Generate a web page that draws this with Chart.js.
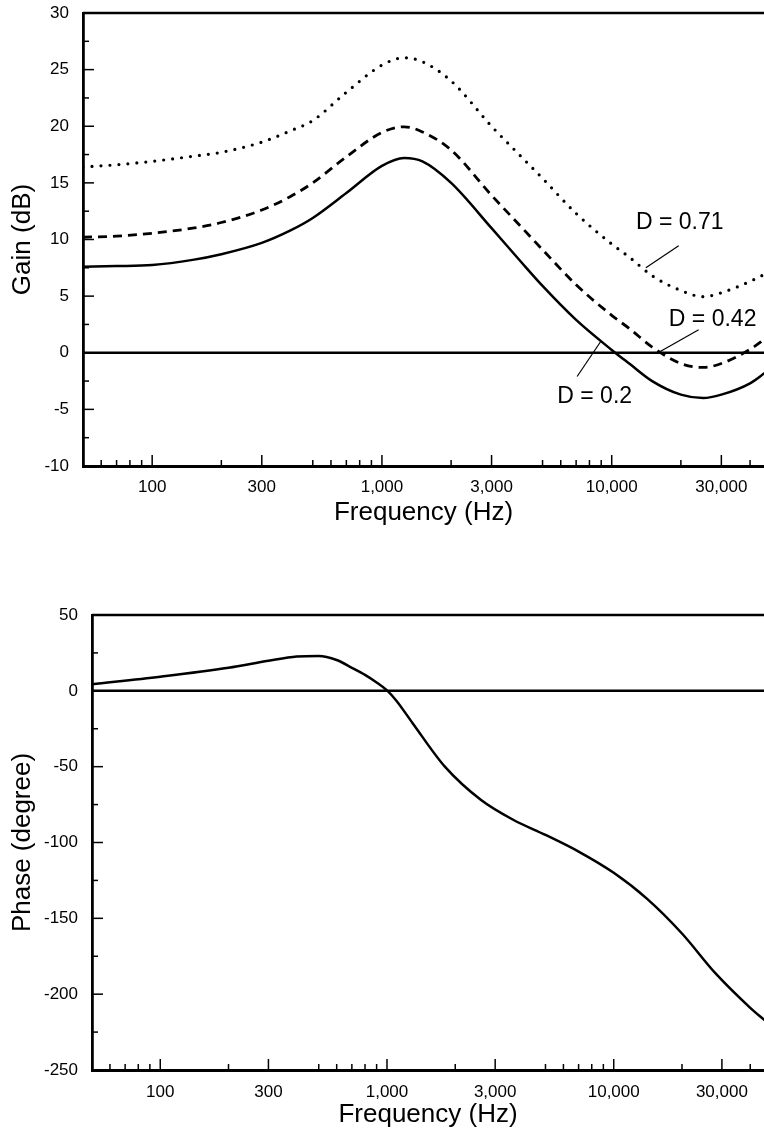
<!DOCTYPE html>
<html lang="en">
  <head>
    <meta charset="UTF-8" />
    <title>Gain and Phase vs Frequency</title>
    <script src="https://cdn.jsdelivr.net/npm/chart.js@4"></script>
    <style>
      body {
        margin: 0;
        background: #fff;
        overflow: hidden;
      }
      canvas {
        position: absolute;
        left: 0;
      }
      #gainChart {
        top: 0;
      }
      #phaseChart {
        top: 600px;
      }
    </style>
  </head>
  <body>
    <canvas id="gainChart" width="764" height="540"></canvas>
    <canvas id="phaseChart" width="764" height="533"></canvas>

    <script>
      // gain curves (dB) for three damping values
      const freqGain = [50, 70, 100, 150, 200, 300, 400, 500, 700, 1000, 1250, 1500, 2000, 3000, 4000, 5000, 7000, 10000, 12000, 15000, 20000, 25000, 30000, 40000, 47000];
      const gainD020 = [7.6, 7.65, 7.75, 8.2, 8.7, 9.7, 10.8, 11.9, 14.1, 16.5, 17.2, 16.9, 15.0, 11.0, 8.1, 5.9, 2.9, 0.25, -1.0, -2.5, -3.7, -4.0, -3.7, -2.7, -1.7];
      const gainD042 = [10.2, 10.3, 10.55, 11.0, 11.5, 12.6, 13.8, 15.0, 17.3, 19.45, 19.95, 19.5, 17.9, 13.9, 11.2, 9.1, 6.0, 3.3, 2.1, 0.5, -0.95, -1.3, -0.95, 0.3, 1.3];
      const gainD071 = [16.4, 16.6, 16.9, 17.35, 17.7, 18.6, 19.6, 20.5, 23.0, 25.4, 26.05, 25.7, 24.0, 20.0, 17.4, 15.4, 12.3, 9.6, 8.4, 6.8, 5.5, 4.95, 5.3, 6.3, 7.0];

      // phase curve (degree)
      const freqPhase = [50, 100, 200, 300, 400, 500, 600, 700, 800, 900, 1000, 1100, 1300, 1800, 2600, 3600, 5000, 7000, 10000, 14000, 20000, 28000, 40000, 47000];
      const phaseDeg = [4.3, 9.3, 15.2, 19.8, 22.6, 23.0, 20.3, 15.2, 10.5, 5.5, 0.3, -6.5, -21.5, -50, -72, -85, -95, -106, -120, -137, -160, -186, -209, -218];

      // axis ticks
      const xTickLabels = [100, 300, 1000, 3000, 10000, 30000];
      const xMinorTicks = [60, 70, 80, 90, 200, 500, 600, 700, 800, 900, 2000, 5000, 6000, 7000, 8000, 9000, 20000, 40000];
      const gainTicks = [-10, -5, 0, 5, 10, 15, 20, 25, 30];
      const gainMinor = [-7.5, -2.5, 2.5, 7.5, 12.5, 17.5, 22.5, 27.5];
      const phaseTicks = [-250, -200, -150, -100, -50, 0, 50];
      const phaseMinor = [-225, -175, -125, -75, -25, 25];

      // curve labels: text centre and leader line ends, in (Hz, dB)
      const gainNotes = [
        { text: "D = 0.71", at: [19760, 11.5], from: [19560, 9.45], to: [14080, 7.5] },
        { text: "D = 0.42", at: [27500, 2.9], from: [23900, 2.03], to: [16190, 0.09] },
        { text: "D = 0.2", at: [8430, -3.9], from: [8940, 0.97], to: [7070, -2.1] },
      ];

      const FONT = "'Liberation Sans', Arial, Helvetica, sans-serif";
      Chart.defaults.font.family = FONT;
      Chart.defaults.color = "#000";

      const toPoints = (xs, ys) => xs.map((x, i) => ({ x: x, y: ys[i] }));

      // top border, zero line and inward tick marks
      const framePlugin = {
        id: "frame",
        beforeDatasetsDraw(chart, args, opts) {
          const { ctx, chartArea: a } = chart;
          const x = chart.scales.x;
          const y = chart.scales.y;
          const seg = (x1, y1, x2, y2) => {
            ctx.beginPath();
            ctx.moveTo(x1, y1);
            ctx.lineTo(x2, y2);
            ctx.stroke();
          };
          ctx.save();
          ctx.strokeStyle = "#000";
          ctx.lineWidth = 2.5;
          seg(a.left, a.top, a.right, a.top);
          const y0 = y.getPixelForValue(0);
          seg(a.left, y0, a.right, y0);

          ctx.lineWidth = 1.5;
          xTickLabels.forEach((v) => {
            const px = x.getPixelForValue(v);
            seg(px, a.bottom, px, a.bottom - 11);
          });
          xMinorTicks.forEach((v) => {
            const px = x.getPixelForValue(v);
            if (px > a.left + 2 && px < a.right) seg(px, a.bottom, px, a.bottom - 6);
          });
          opts.yMajor.forEach((v) => {
            const py = y.getPixelForValue(v);
            seg(a.left, py, a.left + 11, py);
          });
          opts.yMinor.forEach((v) => {
            const py = y.getPixelForValue(v);
            seg(a.left, py, a.left + 6, py);
          });
          ctx.restore();
        },
      };

      const notesPlugin = {
        id: "notes",
        afterDatasetsDraw(chart, args, opts) {
          if (!opts.items) return;
          const { ctx } = chart;
          const x = chart.scales.x;
          const y = chart.scales.y;
          ctx.save();
          ctx.strokeStyle = "#000";
          ctx.fillStyle = "#000";
          ctx.lineWidth = 1.2;
          ctx.font = "23px " + FONT;
          ctx.textAlign = "center";
          ctx.textBaseline = "middle";
          opts.items.forEach((n) => {
            ctx.beginPath();
            ctx.moveTo(x.getPixelForValue(n.from[0]), y.getPixelForValue(n.from[1]));
            ctx.lineTo(x.getPixelForValue(n.to[0]), y.getPixelForValue(n.to[1]));
            ctx.stroke();
            ctx.fillText(n.text, x.getPixelForValue(n.at[0]), y.getPixelForValue(n.at[1]));
          });
          ctx.restore();
        },
      };

      const lineStyle = {
        borderColor: "#000",
        pointRadius: 0,
        fill: false,
        cubicInterpolationMode: "monotone",
      };

      function makeScales(opt) {
        return {
          x: {
            type: "logarithmic",
            min: 50,
            max: 46000,
            afterBuildTicks: (s) => {
              s.ticks = xTickLabels.map((v) => ({ value: v }));
            },
            afterFit: (s) => {
              s.height = opt.xHeight;
              s.paddingLeft = 0;
              s.paddingRight = 0;
            },
            grid: { display: true, drawTicks: false, color: "rgba(0,0,0,0)" },
            border: { display: true, color: "#000", width: 3 },
            ticks: {
              autoSkip: false,
              maxRotation: 0,
              padding: opt.xPad,
              font: { size: 17 },
              callback: (v) => Number(v).toLocaleString("en-US"),
            },
            title: {
              display: true,
              text: "Frequency (Hz)",
              font: { size: 26 },
              padding: { top: 0, bottom: opt.xTitlePad },
            },
          },
          y: {
            min: opt.yMin,
            max: opt.yMax,
            afterBuildTicks: (s) => {
              s.ticks = opt.yTicks.map((v) => ({ value: v }));
            },
            afterFit: (s) => {
              s.width = opt.yWidth;
              s.paddingTop = 0;
              s.paddingBottom = 0;
            },
            grid: { display: true, drawTicks: false, color: "rgba(0,0,0,0)" },
            border: { display: true, color: "#000", width: 2.8 },
            ticks: { padding: opt.yPad, font: { size: 17 } },
            title: {
              display: true,
              text: opt.yTitle,
              font: { size: 26 },
              padding: { top: 7, bottom: 0 },
            },
          },
        };
      }

      const gainChartConfig = {
        type: "line",
        data: {
          datasets: [
            { ...lineStyle, label: "D = 0.2", data: toPoints(freqGain, gainD020), borderWidth: 2.5 },
            { ...lineStyle, label: "D = 0.42", data: toPoints(freqGain, gainD042), borderWidth: 2.8, borderDash: [9, 6] },
            { ...lineStyle, label: "D = 0.71", data: toPoints(freqGain, gainD071), borderWidth: 3.2, borderDash: [0, 9], borderCapStyle: "round" },
          ],
        },
        options: {
          responsive: false,
          animation: false,
          layout: { padding: { top: 13, right: 0, left: 0, bottom: 0 } },
          plugins: {
            legend: { display: false },
            tooltip: { enabled: false },
            frame: { yMajor: gainTicks, yMinor: gainMinor },
            notes: { items: gainNotes },
          },
          scales: makeScales({
            yMin: -10, yMax: 30, yTicks: gainTicks, yTitle: "Gain (dB)",
            yWidth: 83, yPad: 14, xHeight: 74, xPad: 11, xTitlePad: 12,
          }),
        },
        plugins: [framePlugin, notesPlugin],
      };

      const phaseChartConfig = {
        type: "line",
        data: {
          datasets: [
            { ...lineStyle, label: "Phase", data: toPoints(freqPhase, phaseDeg), borderWidth: 2.5 },
          ],
        },
        options: {
          responsive: false,
          animation: false,
          layout: { padding: { top: 15, right: 0, left: 0, bottom: 0 } },
          plugins: {
            legend: { display: false },
            tooltip: { enabled: false },
            frame: { yMajor: phaseTicks, yMinor: phaseMinor },
          },
          scales: makeScales({
            yMin: -250, yMax: 50, yTicks: phaseTicks, yTitle: "Phase (degree)",
            yWidth: 92, yPad: 14, xHeight: 63, xPad: 12, xTitlePad: 3,
          }),
        },
        plugins: [framePlugin, notesPlugin],
      };

      window.onload = function () {
        new Chart(document.getElementById("gainChart").getContext("2d"), gainChartConfig);
        new Chart(document.getElementById("phaseChart").getContext("2d"), phaseChartConfig);
      };
    </script>
  </body>
</html>
